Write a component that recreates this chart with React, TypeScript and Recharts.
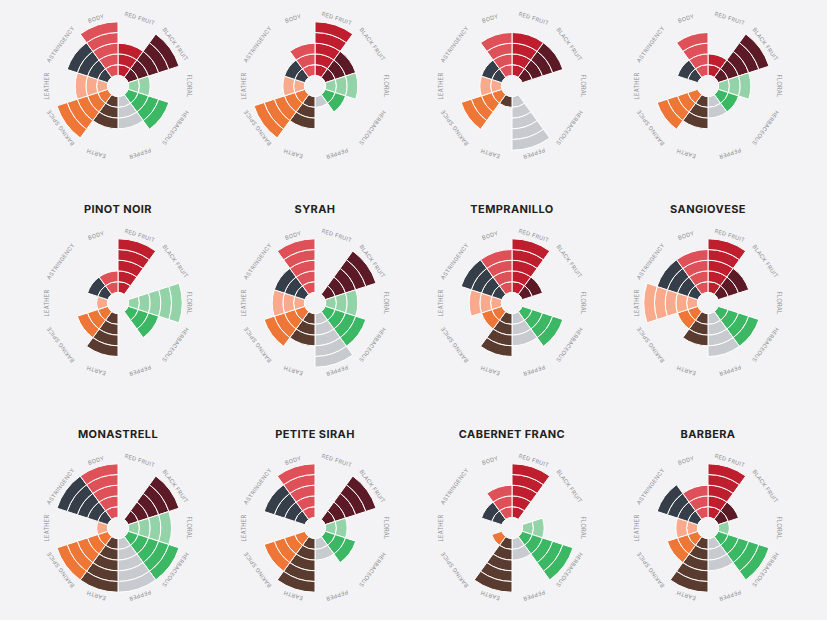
import React from 'react';
import { PieChart, Pie, Cell } from 'recharts';

const categories = ['RED FRUIT', 'BLACK FRUIT', 'FLORAL', 'HERBACEOUS', 'PEPPER', 'EARTH', 'BAKING SPICE', 'LEATHER', 'ASTRINGENCY', 'BODY'];
const categoryColors = ['#be1e2d', '#5b1a26', '#94d3a8', '#3cb865', '#c7cacf', '#5a3b2f', '#ee7637', '#f9aa8c', '#363e49', '#df5158'];

const wineNames = ['', '', '', '', 'PINOT NOIR', 'SYRAH', 'TEMPRANILLO', 'SANGIOVESE', 'MONASTRELL', 'PETITE SIRAH', 'CABERNET FRANC', 'BARBERA'];

const wine1 = [3, 5, 2, 4, 3, 3, 5, 3, 4, 5];
const wine2 = [5, 3, 3, 2, 1, 3, 5, 2, 2, 3];
const wine3 = [4, 4, 0, 0, 5, 1, 4, 2, 2, 4];
const wine4 = [2, 5, 3, 2, 2, 3, 4, 0, 2, 4];
const pinotNoir = [5, 0, 5, 3, 0, 4, 3, 1, 2, 2];
const syrah = [0, 5, 3, 4, 5, 3, 4, 3, 3, 5];
const tempranillo = [5, 2, 0, 4, 3, 4, 2, 3, 4, 4];
const sangiovese = [5, 3, 0, 4, 4, 3, 2, 5, 4, 4];
const monastrell = [0, 5, 4, 5, 5, 5, 5, 1, 5, 5];
const petiteSirah = [0, 5, 2, 3, 2, 5, 4, 0, 4, 5];
const cabernetFranc = [5, 0, 2, 5, 2, 5, 1, 0, 2, 3];
const barbera = [5, 2, 1, 5, 3, 5, 3, 2, 4, 3];

const wineValues = [wine1, wine2, wine3, wine4, pinotNoir, syrah, tempranillo, sangiovese, monastrell, petiteSirah, cabernetFranc, barbera];
const ringLevels = [1, 2, 3, 4, 5];

const W = 827;
const H = 620;
const colX = [118, 315, 512, 708];
const rowY = [86, 303, 528];
const RING = 10.7;
const LABEL_R = 71;
const BG = '#f3f3f5';
const RAD = Math.PI / 180;

const sliceData = categories.map((name) => ({ name, value: 1 }));

const renderLabel = (props: any) => {
  const { cx, cy, midAngle, name, index } = props;
  const x = cx + LABEL_R * Math.cos(-midAngle * RAD);
  const y = cy + LABEL_R * Math.sin(-midAngle * RAD);
  const rot = 90 - midAngle;
  return (
    <text
      key={`lbl-${index}`}
      x={x}
      y={y}
      textAnchor="middle"
      dominantBaseline="central"
      transform={`rotate(${rot}, ${x}, ${y})`}
      fontSize={5.6}
      letterSpacing={0.3}
      fill="#8a8c90"
      fontFamily="Inter, 'Noto Sans', sans-serif"
    >
      {name}
    </text>
  );
};

export default function App() {
  const pies: React.ReactNode[] = [];
  wineValues.forEach((vals, w) => {
    const cx = colX[w % 4];
    const cy = rowY[Math.floor(w / 4)];
    ringLevels.forEach((lvl) => {
      pies.push(
        <Pie
          key={`w${w}-r${lvl}`}
          data={sliceData}
          dataKey="value"
          nameKey="name"
          cx={cx}
          cy={cy}
          innerRadius={RING * lvl}
          outerRadius={RING * (lvl + 1)}
          startAngle={90}
          endAngle={-270}
          isAnimationActive={false}
          stroke="#ffffff"
          strokeWidth={1}
        >
          {vals.map((v, i) => (
            <Cell
              key={`c${i}`}
              fill={v >= lvl ? categoryColors[i] : 'transparent'}
              stroke={v >= lvl ? '#ffffff' : 'none'}
              strokeWidth={1}
            />
          ))}
        </Pie>
      );
    });
    pies.push(
      <Pie
        key={`w${w}-labels`}
        data={sliceData}
        dataKey="value"
        nameKey="name"
        cx={cx}
        cy={cy}
        innerRadius={LABEL_R - 1}
        outerRadius={LABEL_R}
        startAngle={90}
        endAngle={-270}
        isAnimationActive={false}
        fill="none"
        stroke="none"
        label={renderLabel}
        labelLine={false}
      >
        {vals.map((_, i) => (
          <Cell key={`l${i}`} fill="none" stroke="none" />
        ))}
      </Pie>
    );
  });

  return (
    <div style={{ position: 'absolute', left: 0, top: 0, width: W, height: H, background: BG, overflow: 'hidden', fontFamily: "Inter, 'Noto Sans', sans-serif" }}>
      <PieChart width={W} height={H} margin={{ top: 0, right: 0, bottom: 0, left: 0 }}>
        {pies}
      </PieChart>
      {wineNames.map((n, w) =>
        n ? (
          <div
            key={`t${w}`}
            style={{
              position: 'absolute',
              left: colX[w % 4],
              top: rowY[Math.floor(w / 4)] - 94,
              transform: 'translate(-50%, -50%)',
              fontSize: 11,
              fontWeight: 700,
              letterSpacing: 0.4,
              color: '#231f20',
              whiteSpace: 'nowrap',
              lineHeight: 1,
            }}
          >
            {n}
          </div>
        ) : null
      )}
    </div>
  );
}
